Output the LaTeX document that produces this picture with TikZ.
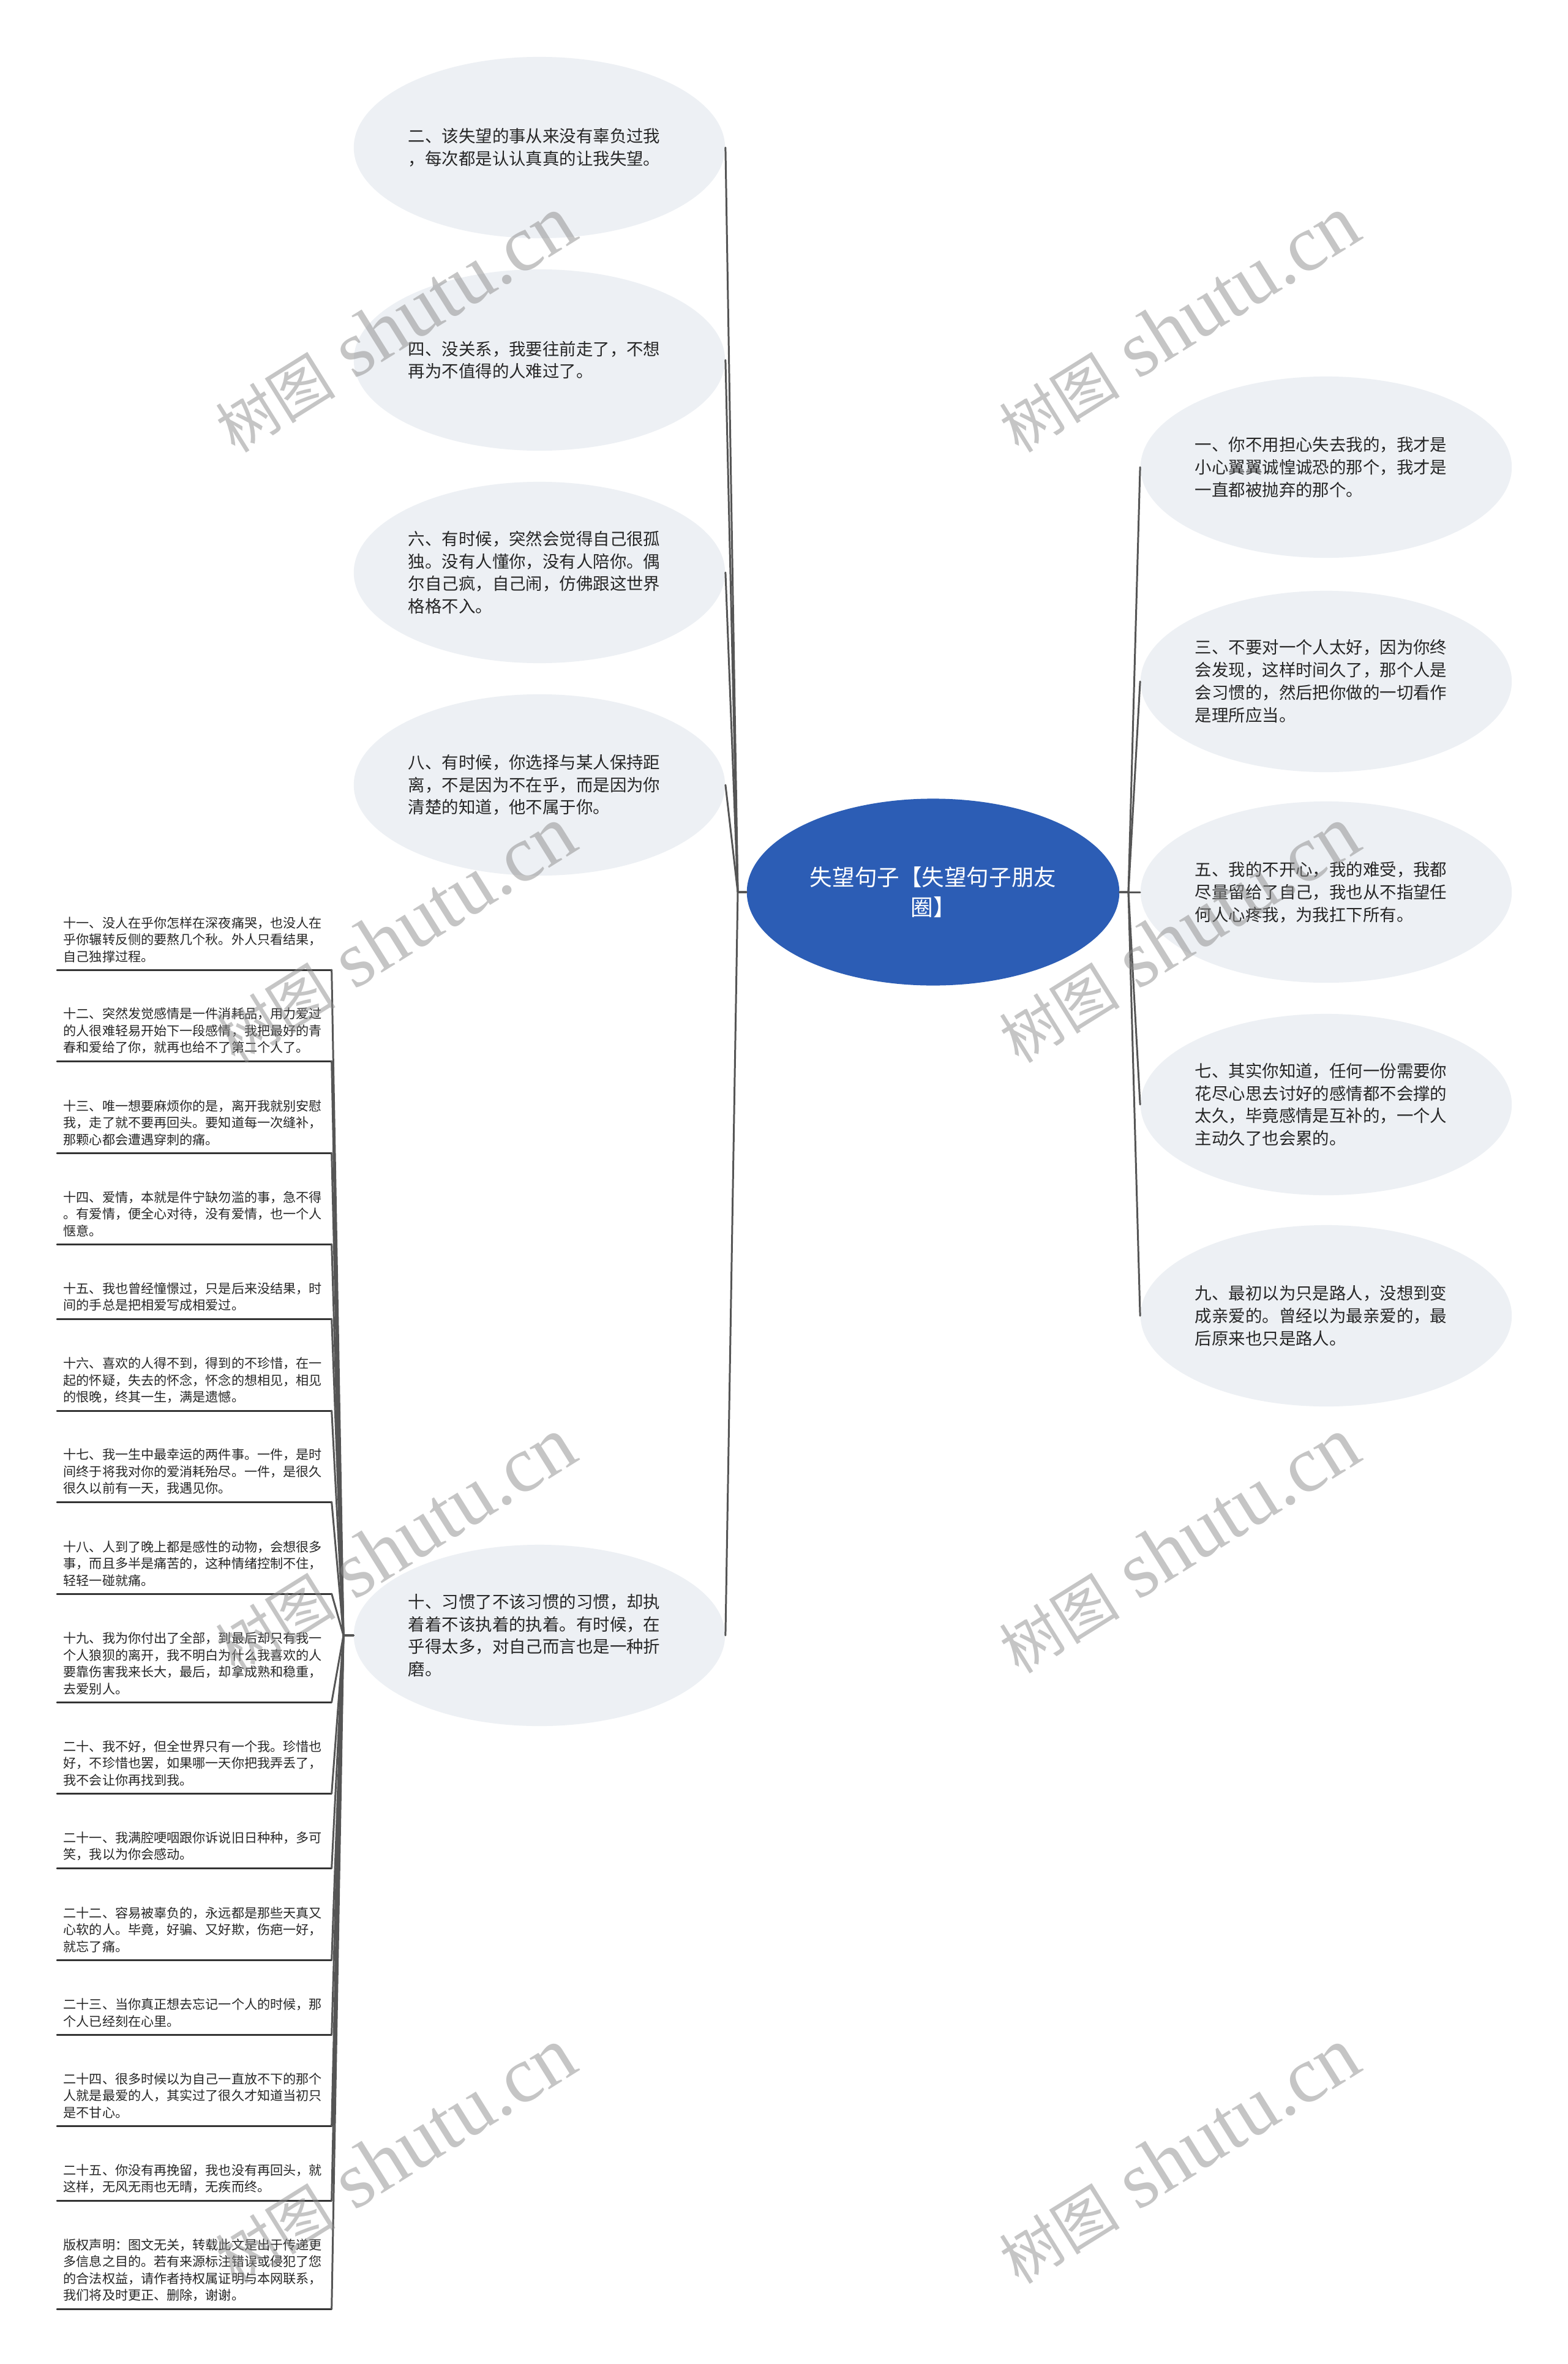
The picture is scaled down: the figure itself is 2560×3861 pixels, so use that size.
\documentclass[tikz,border=0pt]{standalone}
\usepackage{fontspec}
\setmainfont{Noto Sans CJK SC}
\newfontfamily\wmfont{Liberation Serif}
\usetikzlibrary{shapes.geometric}
\definecolor{nen}{HTML}{EDF0F4}
\definecolor{xanh}{HTML}{2C5DB5}
\definecolor{duong}{HTML}{555555}

\begin{document}
\begin{tikzpicture}[x=0.01cm, y=-0.01cm, line join=round, line cap=round,
	goc/.style={ellipse, fill=xanh, text=white, minimum width=6.06cm, minimum height=3.05cm, inner sep=0pt, text width=4.3cm, align=center, font=\fontsize{10.4}{14}\selectfont},
	muc/.style={ellipse, fill=nen, text=black!85, minimum width=6.06cm, minimum height=2.96cm, inner sep=0pt, text width=4.28cm, align=left, font=\fontsize{7.8}{10.5}\selectfont},
	la/.style={anchor=south west, text=black!85, inner xsep=0.1cm, inner ysep=0.115cm, text width=4.27cm, align=left, font=\fontsize{6}{7.82}\selectfont},
	noi/.style={draw=duong, line width=0.85pt},
	gach/.style={draw=black!80, line width=0.85pt},
	chim/.style={rotate=32, text=black!45, text opacity=0.5}]
	\def\xl{881} \def\xr{2166}
	
	% [Khung]
	\fill[white] (0,0) rectangle (2560,3861);
	\useasboundingbox (0,0) rectangle (2560,3861);
	
	% [Nút gốc]
	\node[goc] (goc) at (1524,1457) {失望句子【失望句子朋友\\圈】};
	\coordinate (jl) at (1205,1457);
	\coordinate (jr) at (1843,1457);
	
	% [Nhánh trái]
	\node[muc] (y2) at (\xl,241) {二、该失望的事从来没有辜负过我\\，每次都是认认真真的让我失望。};
	\node[muc] (y4) at (\xl,588) {四、没关系，我要往前走了，不想\\再为不值得的人难过了。};
	\node[muc] (y6) at (\xl,935) {六、有时候，突然会觉得自己很孤\\独。没有人懂你，没有人陪你。偶\\尔自己疯，自己闹，仿佛跟这世界\\格格不入。};
	\node[muc] (y8) at (\xl,1282) {八、有时候，你选择与某人保持距\\离，不是因为不在乎，而是因为你\\清楚的知道，他不属于你。};
	\node[muc] (y10) at (\xl,2671) {十、习惯了不该习惯的习惯，却执\\着着不该执着的执着。有时候，在\\乎得太多，对自己而言也是一种折\\磨。};
	
	% [Nhánh phải]
	\node[muc] (y1) at (\xr,763) {一、你不用担心失去我的，我才是\\小心翼翼诚惶诚恐的那个，我才是\\一直都被抛弃的那个。};
	\node[muc] (y3) at (\xr,1113) {三、不要对一个人太好，因为你终\\会发现，这样时间久了，那个人是\\会习惯的，然后把你做的一切看作\\是理所应当。};
	\node[muc] (y5) at (\xr,1457) {五、我的不开心，我的难受，我都\\尽量留给了自己，我也从不指望任\\何人心疼我，为我扛下所有。};
	\node[muc] (y7) at (\xr,1804) {七、其实你知道，任何一份需要你\\花尽心思去讨好的感情都不会撑的\\太久，毕竟感情是互补的，一个人\\主动久了也会累的。};
	\node[muc] (y9) at (\xr,2149) {九、最初以为只是路人，没想到变\\成亲爱的。曾经以为最亲爱的，最\\后原来也只是路人。};
	
	% [Các ý con của mục mười]
	\coordinate (jm) at (561,2671);
	\node[la] (y11) at (93,1584) {十一、没人在乎你怎样在深夜痛哭，也没人在\\乎你辗转反侧的要熬几个秋。外人只看结果，\\自己独撑过程。};
	\node[la] (y12) at (93,1733) {十二、突然发觉感情是一件消耗品，用力爱过\\的人很难轻易开始下一段感情，我把最好的青\\春和爱给了你，就再也给不了第二个人了。};
	\node[la] (y13) at (93,1883) {十三、唯一想要麻烦你的是，离开我就别安慰\\我，走了就不要再回头。要知道每一次缝补，\\那颗心都会遭遇穿刺的痛。};
	\node[la] (y14) at (93,2032) {十四、爱情，本就是件宁缺勿滥的事，急不得\\。有爱情，便全心对待，没有爱情，也一个人\\惬意。};
	\node[la] (y15) at (93,2154) {十五、我也曾经憧憬过，只是后来没结果，时\\间的手总是把相爱写成相爱过。};
	\node[la] (y16) at (93,2304) {十六、喜欢的人得不到，得到的不珍惜，在一\\起的怀疑，失去的怀念，怀念的想相见，相见\\的恨晚，终其一生，满是遗憾。};
	\node[la] (y17) at (93,2453) {十七、我一生中最幸运的两件事。一件，是时\\间终于将我对你的爱消耗殆尽。一件，是很久\\很久以前有一天，我遇见你。};
	\node[la] (y18) at (93,2603) {十八、人到了晚上都是感性的动物，会想很多\\事，而且多半是痛苦的，这种情绪控制不住，\\轻轻一碰就痛。};
	\node[la] (y19) at (93,2780) {十九、我为你付出了全部，到最后却只有我一\\个人狼狈的离开，我不明白为什么我喜欢的人\\要靠伤害我来长大，最后，却拿成熟和稳重，\\去爱别人。};
	\node[la] (y20) at (93,2929) {二十、我不好，但全世界只有一个我。珍惜也\\好，不珍惜也罢，如果哪一天你把我弄丢了，\\我不会让你再找到我。};
	\node[la] (y21) at (93,3051) {二十一、我满腔哽咽跟你诉说旧日种种，多可\\笑，我以为你会感动。};
	\node[la] (y22) at (93,3201) {二十二、容易被辜负的，永远都是那些天真又\\心软的人。毕竟，好骗、又好欺，伤疤一好，\\就忘了痛。};
	\node[la] (y23) at (93,3323) {二十三、当你真正想去忘记一个人的时候，那\\个人已经刻在心里。};
	\node[la] (y24) at (93,3472) {二十四、很多时候以为自己一直放不下的那个\\人就是最爱的人，其实过了很久才知道当初只\\是不甘心。};
	\node[la] (y25) at (93,3594) {二十五、你没有再挽留，我也没有再回头，就\\这样，无风无雨也无晴，无疾而终。};
	\node[la] (yban) at (93,3771) {版权声明：图文无关，转载此文是出于传递更\\多信息之目的。若有来源标注错误或侵犯了您\\的合法权益，请作者持权属证明与本网联系，\\我们将及时更正、删除，谢谢。};
	
	% [Đường nối]
	\foreach \n in {y2,y4,y6,y8,y10} \draw[noi] (goc.west) -- (jl) -- (\n.east);
	\foreach \n in {y1,y3,y5,y7,y9} \draw[noi] (goc.east) -- (jr) -- (\n.west);
	\foreach \n in {y11,y12,y13,y14,y15,y16,y17,y18,y19,y20,y21,y22,y23,y24,y25,yban}{
		\draw[gach] (\n.south west) -- (\n.south east);
		\draw[noi] (y10.west) -- (jm) -- (\n.south east);
	}
	
	% [Chữ chìm]
	\foreach \wx in {645,1925}
	\foreach \wy in {530,1527,2524,3521}
	\node[chim] (chim-\wx-\wy) at (\wx,\wy) {{\fontsize{28}{28}\selectfont 树图}\hspace{9pt}{\wmfont\fontsize{37}{37}\selectfont shutu.cn}};
\end{tikzpicture}
\end{document}
